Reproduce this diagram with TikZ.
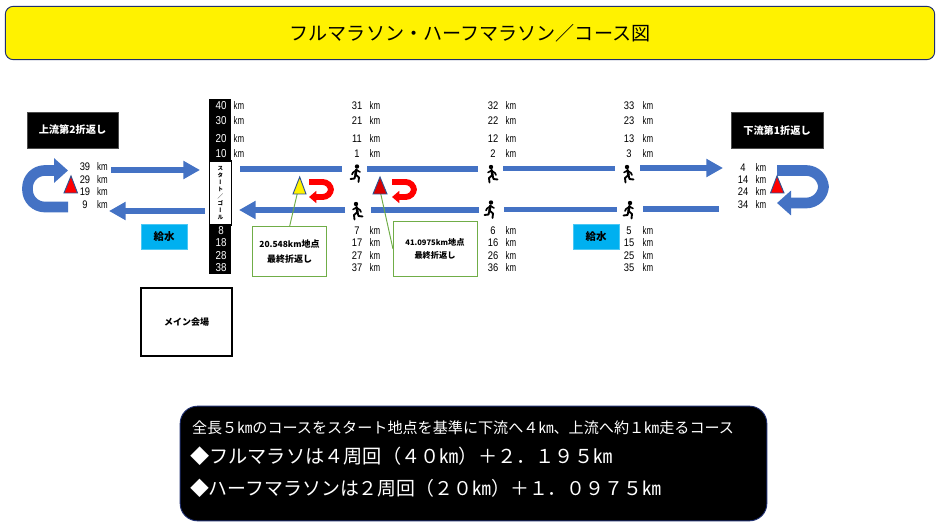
\documentclass[tikz,border=0pt]{standalone}
\usepackage{fontspec}
\usetikzlibrary{arrows.meta}
\setmainfont{Noto Sans CJK JP}
\newfontfamily\latinf{Liberation Sans}
\newfontfamily\vertf[RawFeature=+vert]{Noto Sans CJK JP}
\newcommand{\fsz}[1]{\fontsize{\fpeval{#1*0.75}pt}{\fpeval{#1*0.95}pt}\selectfont}
\newcommand{\dg}[1]{\scalebox{.85}[1]{#1}}
\newcommand{\kmu}{\scalebox{.72}[1]{km}}
\definecolor{cblue}{HTML}{4472C4}
\definecolor{cdark}{HTML}{2F528F}
\definecolor{cgreen}{HTML}{70AD47}
\definecolor{cwater}{HTML}{00B0F0}
\definecolor{cnavy}{HTML}{1F2F6F}
\tikzset{
  x=0.75pt,y=-0.75pt,
  every node/.style={inner sep=0pt,outer sep=0pt},
  kmtext/.style={font=\latinf\fsz{11},text=black},
  kmwhite/.style={font=\latinf\fsz{11.5},text=white},
  blackbox/.style={fill=black,draw=black!70,line width=.5pt,font=\bfseries\fsz{10.2},text=white,align=center},
  waterbox/.style={fill=cwater,draw=cwater!70,line width=.5pt,font=\bfseries\fsz{10.5},text=black},
  callout/.style={draw=cgreen,fill=white,line width=.6pt,font=\bfseries\fsz{9},align=center},
  leader/.style={draw=cgreen,line width=.7pt},
  course/.style={draw=cblue,line width=4.3pt},
  coursearrow/.style={course,-{Triangle[length=12.5pt,width=13pt]}},
  uturn/.style={draw=cblue,line width=8pt,rounded corners=13pt,-{Triangle[length=10.5pt,width=18pt]}},
  redturn/.style={draw=red,line width=4.4pt,rounded corners=6.3pt,-{Triangle[length=5.5pt,width=9pt]}},
  flag/.style={draw=cdark,line width=.7pt},
  runner/.pic={
    \fill[black] (1,-7) circle (2.2);
    \draw[black,line width=1.9pt,line cap=round,line join=round] (0.5,-4) -- (-0.5,1);
    \draw[black,line width=1.2pt,line cap=round,line join=round] (0.5,-3.5) -- (4,-1.5) (0.5,-3.5) -- (-3,-1) -- (-4,1);
    \draw[black,line width=1.4pt,line cap=round,line join=round] (-0.5,1) -- (3,4) -- (2.5,8.5) (-0.5,1) -- (-1.5,5) -- (-5.5,5.5);
  }
}
\begin{document}
\begin{tikzpicture}
\useasboundingbox (0,0) rectangle (942,531);
\fill[white] (0,0) rectangle (942,531);

% title
\node[draw=cnavy,fill=yellow,line width=.7pt,rounded corners=6pt,minimum width=697pt,minimum height=40pt,font=\fsz{19.1}] (title) at (470,33) {フルマラソン・ハーフマラソン／コース図};

% black labels
\node[blackbox,minimum width=68pt,minimum height=27pt] (upper) at (72.5,130) {上流第2折返し};
\node[blackbox,minimum width=69pt,minimum height=27.5pt] (lower) at (777,130.5) {下流第1折返し};

% start column
\node[fill=black,minimum width=16.5pt,minimum height=131pt] (column) at (220,186.5) {};
\foreach \v/\y in {40/106,30/121,20/139,10/154,8/231,18/243,28/256,38/268}
  \node[kmwhite] (c\v) at (221,\y) {\dg{\v}};
\foreach \v/\y in {40/106,30/121,20/139,10/154}
  \node[kmtext] (k\v) at (239,\y) {\kmu};
\node[draw=black,fill=white,line width=.8pt,minimum width=17pt,minimum height=48pt,align=center,font=\vertf\bfseries\fontsize{4.2pt}{5.25pt}\selectfont] (start) at (220.5,193)
  {ス\\タ\\ー\\ト\\／\\ゴ\\ー\\ル};

% km columns
\foreach \col/\nx/\kx/\a/\b/\c/\d/\e/\f/\g/\h in {
   A/357/375/31/21/11/1/7/17/27/37,
   B/493/511/32/22/12/2/6/16/26/36,
   C/629/648/33/23/13/3/5/15/25/35}{
  \foreach \v/\y in {\a/106,\b/121,\c/139,\d/154,\e/231,\f/243,\g/256,\h/268}{
    \node[kmtext] (n\col\v) at (\nx,\y) {\dg{\v}};
    \node[kmtext] (u\col\v) at (\kx,\y) {\kmu};
  }
}
\foreach \v/\y in {39/167,29/180,19/192,9/205}{
  \node[kmtext] (nL\v) at (85,\y) {\dg{\v}};
  \node[kmtext] (uL\v) at (102.5,\y) {\kmu};
}
\foreach \v/\y in {4/168,14/180,24/192,34/205}{
  \node[kmtext] (nR\v) at (743,\y) {\dg{\v}};
  \node[kmtext] (uR\v) at (761,\y) {\kmu};
}

% course lines
\coordinate (t0) at (111,170); \coordinate (t1) at (200,170);
\coordinate (b1) at (205,211); \coordinate (b0) at (109,211);
\draw[coursearrow] (t0) -- (t1);
\draw[coursearrow] (b1) -- (b0);
\coordinate (m1) at (240,169); \coordinate (m2) at (342,169);
\coordinate (m3) at (367,169); \coordinate (m4) at (478,169);
\coordinate (m5) at (503,168.5); \coordinate (m6) at (615,168.5);
\coordinate (m7) at (640,168); \coordinate (m8) at (723,168);
\draw[course] (m1) -- (m2);
\draw[course] (m3) -- (m4);
\draw[course] (m5) -- (m6);
\draw[coursearrow] (m7) -- (m8);
\coordinate (r1) at (345,210); \coordinate (r2) at (239,210);
\coordinate (r3) at (371,210); \coordinate (r4) at (479,210);
\coordinate (r5) at (504,209.5); \coordinate (r6) at (617,209.5);
\coordinate (r7) at (643,209); \coordinate (r8) at (719,209);
\draw[coursearrow] (r1) -- (r2);
\draw[course] (r3) -- (r4);
\draw[course] (r5) -- (r6);
\draw[course] (r7) -- (r8);

% big U-turns
\coordinate (lu0) at (68,207); \coordinate (lu1) at (68,170.5);
\draw[uturn] (lu0) -- (27.5,207) -- (27.5,170.5) -- (lu1);
\coordinate (ru0) at (777,170.5); \coordinate (ru1) at (777,203);
\draw[uturn] (ru0) -- (823.5,170.5) -- (823.5,203) -- (ru1);

% triangles
\draw[flag,fill=red] (71,176) -- (77.5,193) -- (64,193) -- cycle;
\draw[flag,fill=red] (777,176) -- (784,193) -- (770.5,193) -- cycle;

% callouts
\node[callout,minimum width=56pt,minimum height=37pt] (cb1) at (289.5,251.5) {{\fsz{8.4}20.548km}地点\\[3pt]最終折返し};
\node[callout,minimum width=63pt,minimum height=41.5pt,font=\bfseries\fsz{8.2}] (cb2) at (435,249) {{\fsz{7.6}41.0975km}地点\\[2pt]最終折返し};
\coordinate (y0) at (299,186);
\coordinate (x0) at (379,186);
\draw[leader] (y0) -- (cb1.north);
\draw[leader] (x0) -- (cb2.west);
\draw[flag,fill=yellow] (299.7,177) -- (306,194) -- (293,194) -- cycle;
\draw[flag,fill=red!85!black] (380,177) -- (387,194) -- (373,194) -- cycle;

% red U-turns
\coordinate (ra0) at (309,182); \coordinate (ra1) at (309,197);
\draw[redturn] (ra0) -- (331,182) -- (331,197) -- (ra1);
\coordinate (rb0) at (392,182); \coordinate (rb1) at (392,197);
\draw[redturn] (rb0) -- (414,182) -- (414,197) -- (rb1);

% runners
\pic at (356,173.5) {runner};
\pic[xscale=-1] at (357,211) {runner};
\pic[xscale=-1] at (492,174) {runner};
\pic at (490,209.5) {runner};
\pic[xscale=-1] at (628,174) {runner};
\pic at (629,210) {runner};

% water
\node[waterbox,minimum width=34.5pt,minimum height=19pt] (w1) at (164,236.5) {給水};
\node[waterbox,minimum width=34.5pt,minimum height=19pt] (w2) at (596,236.5) {給水};

% main venue
\node[draw=black,fill=white,line width=1.5pt,minimum width=68pt,minimum height=51pt,font=\bfseries\fsz{9}] (venue) at (186.5,322) {メイン会場};

% info panel
\node[draw=cnavy,fill=black,line width=.7pt,rounded corners=13pt,minimum width=440pt,minimum height=86pt] (panel) at (473.5,463.5) {};
\node[anchor=west,text=white,font=\fsz{15.1}] (l1) at (192,428) {全長５㎞のコースをスタート地点を基準に下流へ４㎞、上流へ約１㎞走るコース};
\node[anchor=west,text=white,font=\fsz{19.2}] (l2) at (190,456) {◆フルマラソは４周回（４０㎞）＋２．１９５㎞};
\node[anchor=west,text=white,font=\fsz{18.9}] (l3) at (190,488) {◆ハーフマラソンは２周回（２０㎞）＋１．０９７５㎞};
\end{tikzpicture}
\end{document}
